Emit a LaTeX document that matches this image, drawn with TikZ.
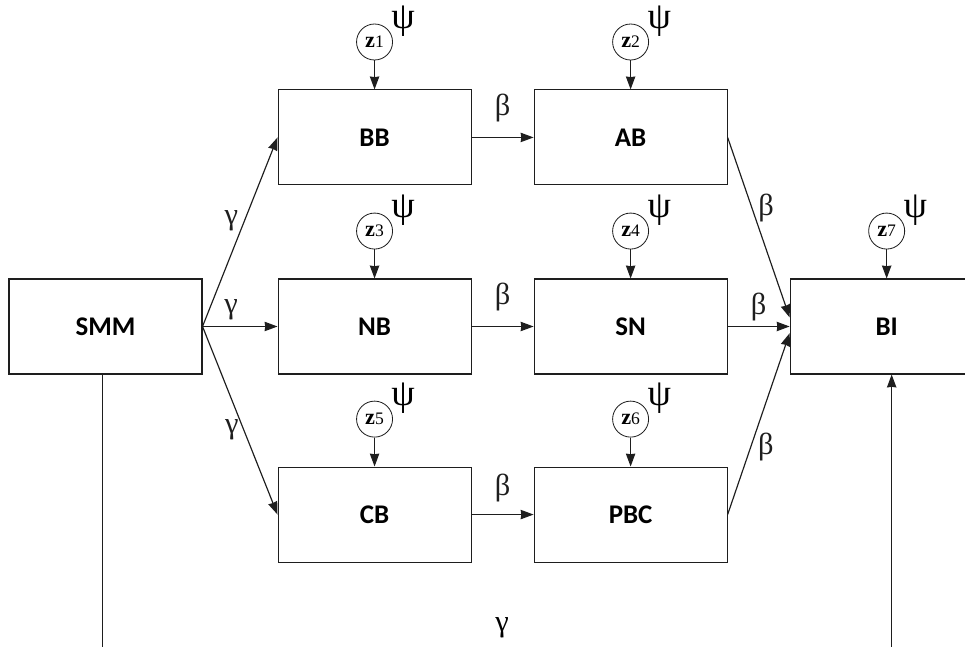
\documentclass[tikz,border=0pt]{standalone}
\usepackage{fontspec}
\setmainfont{Liberation Serif}
\newfontfamily\boxfont{Carlito}
\usetikzlibrary{arrows.meta,positioning}
\definecolor{Ink}{HTML}{1E1E1E}
\newcommand{\zlab}[1]{\textbf{z}{\fontsize{15}{15}\selectfont #1}}

\begin{document}
\begin{tikzpicture}[
      node distance=1.86cm,
      box/.style={draw=Ink,line width=0.9pt,minimum width=5.79cm,minimum height=2.85cm,
        inner sep=0pt,font=\boxfont\fontsize{23}{25}\selectfont\bfseries},
      zin/.style={draw=Ink,circle,line width=0.7pt,minimum size=1.08cm,inner sep=0pt,
        font=\fontsize{19}{20}\selectfont},
      psi/.style={font=\fontsize{32}{34}\selectfont,inner sep=0pt},
      lbl/.style={font=\fontsize{26}{28}\selectfont,inner sep=1pt},
      arrow/.style={-{Stealth[length=11pt,width=8pt,inset=0.5pt]},line width=1pt,color=Ink}
    ]
      \useasboundingbox (0,0) rectangle (28.95,-19.41);
      \node[box] (smm) at (3.165,-9.795) {SMM};
      \node[box,right=2.25cm of smm] (nb) {NB};
      \node[box,above=2.79cm of nb] (bb) {BB};
      \node[box,below=2.76cm of nb] (cb) {CB};
      \node[box,right=of bb] (ab) {AB};
      \node[box,right=of nb] (sn) {SN};
      \node[box,right=of cb] (pbc) {PBC};
      \node[box,right=of sn] (bi) {BI};
      % exogenous inputs
      \node[zin,above=0.87cm of bb] (z1) {\zlab{1}};
      \node[zin,above=0.87cm of ab] (z2) {\zlab{2}};
      \node[zin,above=0.87cm of nb] (z3) {\zlab{3}};
      \node[zin,above=0.87cm of sn] (z4) {\zlab{4}};
      \node[zin,above=0.87cm of cb] (z5) {\zlab{5}};
      \node[zin,above=0.87cm of pbc] (z6) {\zlab{6}};
      \node[zin,above=0.87cm of bi] (z7) {\zlab{7}};
      \foreach \z/\b in {z1/bb,z2/ab,z3/nb,z4/sn,z5/cb,z6/pbc,z7/bi} {
        \node[psi] (psi-\z) at ([shift={(0.86,0.62)}]\z) {ψ};
        \draw[arrow] (\z) -- (\b);
      }
      \coordinate (bot) at (0,-19.7);
      \draw[arrow] (smm.east) -- node[lbl,pos=0.56,left=4pt] {γ} (bb.west);
      \draw[arrow] (smm.east) -- node[lbl,pos=0.38,above=4pt] {γ} (nb.west);
      \draw[arrow] (smm.east) -- node[lbl,pos=0.55,left=3pt] {γ} (cb.west);
      \draw[arrow] (bb) -- node[lbl,above=12pt] {β} (ab);
      \draw[arrow] (nb) -- node[lbl,above=12pt] {β} (sn);
      \draw[arrow] (cb) -- node[lbl,above=9pt] {β} (pbc);
      \draw[arrow] (ab.east) -- node[lbl,pos=0.39,right=4pt] {β} ([yshift=0.27cm]bi.west);
      \draw[arrow] (sn) -- node[lbl,above=3pt] {β} (bi);
      \draw[arrow] (pbc.east) -- node[lbl,pos=0.37,right=5pt] {β} ([yshift=-0.2cm]bi.west);
      \draw[line width=1pt,color=Ink] ([xshift=-0.1cm]smm.south) -- ([xshift=-0.1cm]smm.south |- bot);
      \draw[arrow] ([xshift=0.15cm]bi.south |- bot) -- ([xshift=0.15cm]bi.south);
      \node[lbl] (gbot) at (15.06,-18.84) {γ};
    \end{tikzpicture}
\end{document}
